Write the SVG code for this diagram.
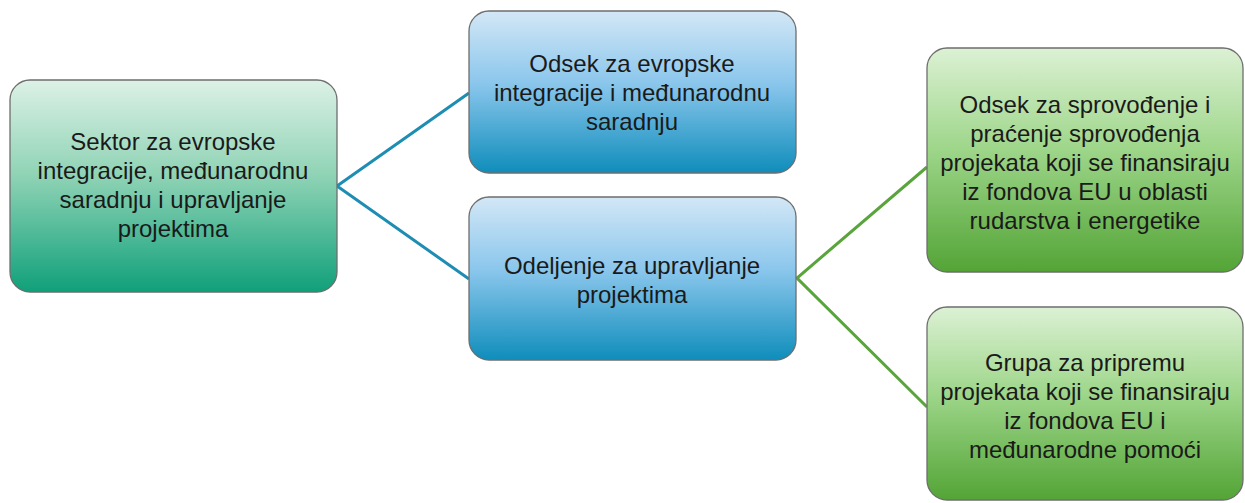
<svg xmlns="http://www.w3.org/2000/svg" width="1245" height="503" viewBox="0 0 1245 503">
<defs>
<linearGradient id="gTeal" x1="0" y1="0" x2="0" y2="1">
<stop offset="0" stop-color="#dcf1e6"/>
<stop offset="0.45" stop-color="#8fd3b5"/>
<stop offset="1" stop-color="#10a07a"/>
</linearGradient>
<linearGradient id="gBlue" x1="0" y1="0" x2="0" y2="1">
<stop offset="0" stop-color="#d3e7f6"/>
<stop offset="0.45" stop-color="#8ac6ec"/>
<stop offset="1" stop-color="#0f8dbb"/>
</linearGradient>
<linearGradient id="gGreen" x1="0" y1="0" x2="0" y2="1">
<stop offset="0" stop-color="#dcf1d4"/>
<stop offset="0.45" stop-color="#9ed68a"/>
<stop offset="1" stop-color="#53a436"/>
</linearGradient>
</defs>
<style>
.box{stroke:#6e6e6e;stroke-width:1.3}
.t{font-family:"Liberation Sans",Arial,sans-serif;font-size:24px;fill:#1a1a1a;text-anchor:middle}
.cb{stroke:#1e8db3;stroke-width:3;fill:none}
.cg{stroke:#5aa43c;stroke-width:3;fill:none}
</style>
<g id="connectors">
<polyline class="cb" points="469,93 337,186 469,279"/>
<polyline class="cg" points="927,167 797,278 927,407"/>
</g>
<g id="sektor">
<rect class="box" x="10" y="80" width="327" height="212" rx="20" fill="url(#gTeal)"/>
<text class="t" x="173" y="150">Sektor za evropske</text>
<text class="t" x="173" y="179">integracije, međunarodnu</text>
<text class="t" x="173" y="208">saradnju i upravljanje</text>
<text class="t" x="173" y="237">projektima</text>
</g>
<g id="odsek-ei">
<rect class="box" x="469" y="11" width="327" height="162" rx="20" fill="url(#gBlue)"/>
<text class="t" x="632" y="72">Odsek za evropske</text>
<text class="t" x="632" y="101">integracije i međunarodnu</text>
<text class="t" x="632" y="130">saradnju</text>
</g>
<g id="odeljenje">
<rect class="box" x="469" y="197" width="327" height="163" rx="20" fill="url(#gBlue)"/>
<text class="t" x="632" y="274">Odeljenje za upravljanje</text>
<text class="t" x="632" y="303">projektima</text>
</g>
<g id="odsek-sp">
<rect class="box" x="927" y="48" width="316" height="224" rx="20" fill="url(#gGreen)"/>
<text class="t" x="1085" y="113">Odsek za sprovođenje i</text>
<text class="t" x="1085" y="142">praćenje sprovođenja</text>
<text class="t" x="1085" y="171">projekata koji se finansiraju</text>
<text class="t" x="1085" y="200">iz fondova EU u oblasti</text>
<text class="t" x="1085" y="229">rudarstva i energetike</text>
</g>
<g id="grupa">
<rect class="box" x="927" y="307" width="316" height="193" rx="20" fill="url(#gGreen)"/>
<text class="t" x="1085" y="371">Grupa za pripremu</text>
<text class="t" x="1085" y="400">projekata koji se finansiraju</text>
<text class="t" x="1085" y="429">iz fondova EU i</text>
<text class="t" x="1085" y="458">međunarodne pomoći</text>
</g>
</svg>
